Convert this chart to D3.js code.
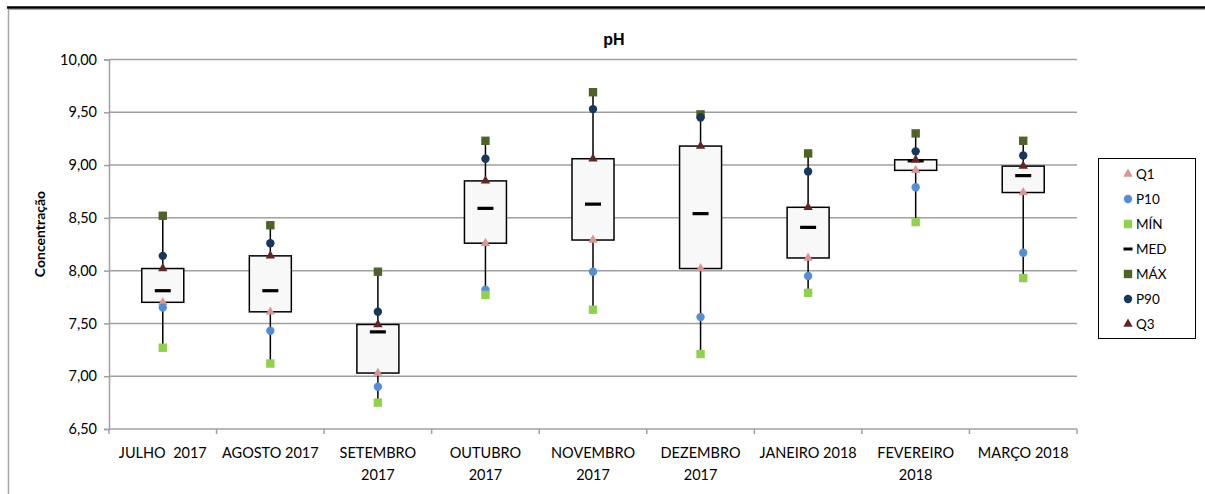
<!DOCTYPE html>
<html>
<head>
<meta charset="utf-8">
<script src="https://cdn.jsdelivr.net/npm/d3@7"></script>
<style>
  body { margin: 0; background: #fff; }
  text { font-family: Lato, "Open Sans", sans-serif; fill: #000; }
</style>
</head>
<body>
<div id="chart"></div>
<script>
const width = 1205,
      height = 494;

// months (label lines)
const months = [
  ["JULHO  2017"], ["AGOSTO 2017"], ["SETEMBRO", "2017"], ["OUTUBRO", "2017"],
  ["NOVEMBRO", "2017"], ["DEZEMBRO", "2017"], ["JANEIRO 2018"], ["FEVEREIRO", "2018"], ["MARÇO 2018"]
];
const yTicks = [6.5, 7, 7.5, 8, 8.5, 9, 9.5, 10];

const q1  = [7.70, 7.61, 7.03, 8.26, 8.29, 8.02, 8.12, 8.95, 8.74];
const p10 = [7.65, 7.43, 6.90, 7.82, 7.99, 7.56, 7.95, 8.79, 8.17];
const min = [7.27, 7.12, 6.75, 7.77, 7.63, 7.21, 7.79, 8.46, 7.93];
const med = [7.81, 7.81, 7.42, 8.59, 8.63, 8.54, 8.41, 9.04, 8.90];
const max = [8.52, 8.43, 7.99, 9.23, 9.69, 9.48, 9.11, 9.30, 9.23];
const p90 = [8.14, 8.26, 7.61, 9.06, 9.53, 9.45, 8.94, 9.13, 9.09];
const q3  = [8.02, 8.14, 7.49, 8.85, 9.06, 9.18, 8.60, 9.05, 8.99];

const series = [
  { name: "Q1",  values: q1,  color: "#d99694", shape: "tri" },
  { name: "P10", values: p10, color: "#558ed5", shape: "circle" },
  { name: "MÍN", values: min, color: "#92d050", shape: "square" },
  { name: "MED", values: med, color: "#000",    shape: "dash" },
  { name: "MÁX", values: max, color: "#4f6228", shape: "square" },
  { name: "P90", values: p90, color: "#17375e", shape: "circle" },
  { name: "Q3",  values: q3,  color: "#632523", shape: "tri" }
];

const svg = d3.select("#chart")
  .append("svg")
    .attr("width", width)
    .attr("height", height);

// frame
svg.append("line")
    .attr("x1", 8.5).attr("x2", 8.5).attr("y1", 9).attr("y2", height)
    .attr("stroke", "#a6a6a6").attr("stroke-width", 1.5);
svg.append("line")
    .attr("x1", 8).attr("x2", width).attr("y1", 9.5).attr("y2", 9.5)
    .attr("stroke", "#a6a6a6").attr("stroke-width", 1);
svg.append("line")
    .attr("x1", 7).attr("x2", width).attr("y1", 7.5).attr("y2", 7.5)
    .attr("stroke", "#000").attr("stroke-width", 2.5);

const x = d3.scaleBand()
    .domain(d3.range(months.length))
    .range([109, 1077]);

const y = d3.scaleLinear()
    .domain([6.5, 10])
    .range([429, 59.5]);

const fmt = d => d3.format(".2f")(d).replace(".", ",");

// gridlines
svg.append("g")
  .selectAll("line")
  .data(yTicks.slice(1))
  .enter().append("line")
    .attr("x1", 109).attr("x2", 1077)
    .attr("y1", d => y(d)).attr("y2", d => y(d))
    .attr("stroke", "#a0a0a0").attr("stroke-width", 1.5);

// y axis
const yAxis = svg.append("g")
    .attr("transform", "translate(109,0)")
    .call(d3.axisLeft(y).tickValues(yTicks).tickFormat(fmt).tickSize(5).tickPadding(7));
yAxis.select(".domain").attr("stroke", "#a0a0a0").attr("stroke-width", 1.5);
yAxis.selectAll(".tick line").attr("stroke", "#a0a0a0").attr("stroke-width", 1.5);
yAxis.selectAll("text")
    .style("font-family", "Lato, sans-serif")
    .style("font-size", "14.5px")
    .attr("fill", "#000");

// x axis
const xAxis = svg.append("g")
    .attr("transform", "translate(0,429)");
xAxis.append("line")
    .attr("x1", 109).attr("x2", 1077)
    .attr("stroke", "#a0a0a0").attr("stroke-width", 1.5);
xAxis.selectAll(".xt")
  .data(d3.range(months.length + 1))
  .enter().append("line")
    .attr("class", "xt")
    .attr("x1", d => 109 + d * x.step()).attr("x2", d => 109 + d * x.step())
    .attr("y1", 0).attr("y2", 5)
    .attr("stroke", "#a0a0a0").attr("stroke-width", 1.5);
xAxis.selectAll(".xl")
  .data(months)
  .enter().append("text")
    .attr("class", "xl")
    .attr("text-anchor", "middle")
    .style("font-size", "14.5px")
    .attr("transform", (d, i) => `translate(${x(i) + x.bandwidth() / 2},29)`)
  .selectAll("tspan")
  .data(d => d)
  .enter().append("tspan")
    .attr("x", 0)
    .attr("y", (d, i) => i * 21.5)
    .style("white-space", "pre")
    .text(d => d);

const cx = i => x(i) + x.bandwidth() / 2;
const boxW = 42;

// whiskers
svg.append("g")
  .selectAll("line")
  .data(d3.range(months.length))
  .enter().append("line")
    .attr("x1", cx).attr("x2", cx)
    .attr("y1", i => y(min[i])).attr("y2", i => y(max[i]))
    .attr("stroke", "#000").attr("stroke-width", 1.5);

// boxes
svg.append("g")
  .selectAll("rect")
  .data(d3.range(months.length))
  .enter().append("rect")
    .attr("x", i => cx(i) - boxW / 2)
    .attr("y", i => y(q3[i]))
    .attr("width", boxW)
    .attr("height", i => y(q1[i]) - y(q3[i]))
    .attr("fill", "#f8f8f8")
    .attr("stroke", "#000").attr("stroke-width", 1.5);

function marker(sel, s) {
  if (s.shape === "circle") {
    sel.append("circle").attr("r", 4.2).attr("fill", s.color);
  } else if (s.shape === "square") {
    sel.append("rect").attr("x", -4.2).attr("y", -4.2).attr("width", 8.4).attr("height", 8.4).attr("fill", s.color);
  } else if (s.shape === "tri") {
    sel.append("path").attr("d", d3.symbol(d3.symbolTriangle, 38)()).attr("fill", s.color);
  } else {
    sel.append("rect").attr("x", -8).attr("y", -1.6).attr("width", 16).attr("height", 3.2).attr("fill", s.color);
  }
}

// markers
series.forEach(s => {
  svg.append("g")
    .selectAll("g")
    .data(s.values)
    .enter().append("g")
      .attr("transform", (d, i) => `translate(${cx(i)},${y(d)})`)
      .each(function() { marker(d3.select(this), s); });
});

// title
svg.append("text")
    .attr("x", 614).attr("y", 45)
    .attr("text-anchor", "middle")
    .style("font-family", "'Liberation Sans', Arial, sans-serif")
    .style("font-weight", "bold")
    .style("font-size", "16px")
    .text("pH");

// y label
svg.append("text")
    .attr("transform", "translate(45,234) rotate(-90)")
    .attr("text-anchor", "middle")
    .style("font-weight", "bold")
    .style("font-size", "14px")
    .text("Concentração");

// legend
const legend = svg.append("g");
legend.append("rect")
    .attr("x", 1098.5).attr("y", 158.5)
    .attr("width", 97).attr("height", 180)
    .attr("fill", "#fff").attr("stroke", "#000").attr("stroke-width", 1);
const item = legend.selectAll(".item")
  .data(series)
  .enter().append("g")
    .attr("class", "item")
    .attr("transform", (d, i) => `translate(1128,${174 + i * 25})`);
item.each(function(s) {
  const g = d3.select(this);
  if (s.shape === "dash") {
    g.append("rect").attr("x", -4.5).attr("y", -1.5).attr("width", 9).attr("height", 3).attr("fill", "#000");
  } else {
    marker(g, s);
  }
});
item.append("text")
    .attr("x", 8).attr("dy", "0.35em")
    .style("font-size", "13.5px")
    .text(d => d.name);
</script>
</body>
</html>
